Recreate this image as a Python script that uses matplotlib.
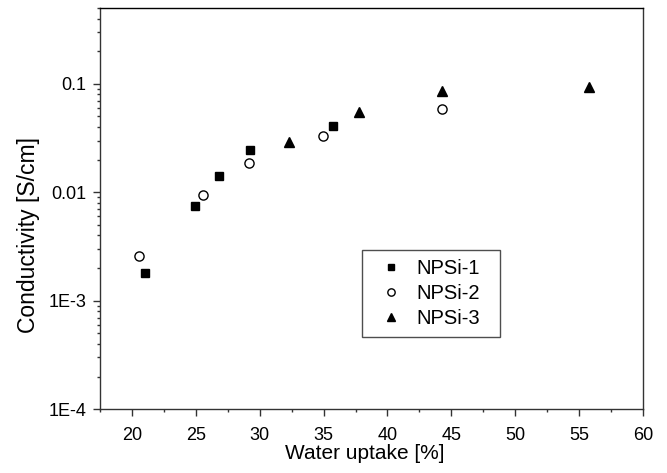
import matplotlib
matplotlib.use("Agg")
import matplotlib.pyplot as plt
from matplotlib.ticker import FixedLocator, MultipleLocator, LogLocator, NullFormatter

plt.rcParams['font.family'] = ['Liberation Sans', 'DejaVu Sans']

# Data
npsi1_x = [21.0, 24.9, 26.8, 29.2, 35.7]
npsi1_y = [1.81e-3, 7.45e-3, 0.0140, 0.0243, 0.0412]
npsi2_x = [20.55, 25.55, 29.15, 34.95, 44.3]
npsi2_y = [2.59e-3, 9.4e-3, 0.0188, 0.0333, 0.059]
npsi3_x = [32.3, 37.8, 44.25, 55.8]
npsi3_y = [0.0288, 0.0553, 0.0863, 0.0937]

series_labels = ["NPSi-1", "NPSi-2", "NPSi-3"]
x_ticks = [20, 25, 30, 35, 40, 45, 50, 55, 60]
y_ticks = [1e-4, 1e-3, 1e-2, 1e-1]
y_tick_labels = ["1E-4", "1E-3", "0.01", "0.1"]

fig = plt.figure(figsize=(6.67, 4.73), dpi=100)
ax = fig.add_axes([0.150, 0.135, 0.814, 0.848])

ax.plot(npsi1_x, npsi1_y, ls='none', marker='s', ms=5.8, color='black', label=series_labels[0])
ax.plot(npsi2_x, npsi2_y, ls='none', marker='o', ms=6.6, mfc='white', mec='black', mew=1.0, label=series_labels[1])
ax.plot(npsi3_x, npsi3_y, ls='none', marker='^', ms=7.6, color='black', label=series_labels[2])

ax.set_yscale('log')
ax.set_xlim(17.5, 60)
ax.set_ylim(1e-4, 0.5)

ax.xaxis.set_major_locator(FixedLocator(x_ticks))
ax.xaxis.set_minor_locator(MultipleLocator(2.5))
ax.yaxis.set_major_locator(FixedLocator(y_ticks))
ax.set_yticklabels(y_tick_labels)
ax.yaxis.set_minor_locator(LogLocator(base=10, subs=range(2, 10)))
ax.yaxis.set_minor_formatter(NullFormatter())

ax.tick_params(which='major', direction='out', length=4.8, width=1, labelsize=13, color='#333333')
ax.tick_params(which='minor', direction='out', length=2.5, width=1, color='#333333')
ax.tick_params(axis='x', which='major', pad=8)
ax.tick_params(axis='y', which='major', pad=5)
ax.tick_params(top=False, right=False)

for s in ax.spines.values():
    s.set_linewidth(1.0)
    s.set_color('#333333')
ax.spines['top'].set_color('black')

ax.set_xlabel("Water uptake [%]", fontsize=15, labelpad=0, x=0.487)
ax.set_ylabel("Conductivity [S/cm]", fontsize=16.5, labelpad=6, y=0.434)

leg = ax.legend(loc='upper left', bbox_to_anchor=(0.4825, 0.177, 0.2541, 0.2195),
                mode='expand', fontsize=14.5,
                frameon=True, fancybox=False, edgecolor='#222222', markerscale=0.8,
                handlelength=2.0, handletextpad=0.25, borderpad=0.45, labelspacing=0.3,
                borderaxespad=0)
leg.get_frame().set_linewidth(1.0)

fig.savefig("out.png", dpi=100)
